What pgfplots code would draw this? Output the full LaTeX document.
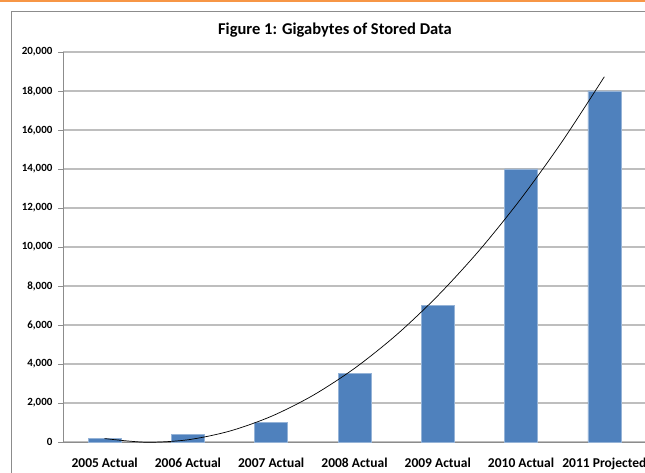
\documentclass[border=0pt]{standalone}
\usepackage{fontspec}
\setmainfont{Carlito}
\usepackage{pgfplots}
\pgfplotsset{compat=1.18}
\definecolor{barblue}{HTML}{4F81BD}
\definecolor{gridgray}{HTML}{BEBEBE}
\definecolor{framegray}{HTML}{8C8C8C}
\definecolor{topline}{HTML}{F79646}
\begin{document}
\begin{tikzpicture}[x=1pt,y=1pt]
% outer chart frame and orange rule along the top
\draw[topline, line width=2.5pt] (0,472) -- (645,472);
\draw[framegray, line width=1pt] (11,0) -- (11,461.5) -- (646,461.5);
\node[font=\bfseries\fontsize{16.5}{18}\selectfont] at (335,443) {Figure 1: Gigabytes of Stored Data};
\begin{axis}[
  at={(63pt,31pt)}, anchor=south west,
  scale only axis,
  width=583pt, height=390pt,
  xmin=-0.5, xmax=6.5,
  ymin=0, ymax=20000,
  ytick={0,2000,...,20000},
  scaled y ticks=false,
  /pgf/number format/.cd, 1000 sep={,}, assume math mode=true, /pgfplots/.cd,
  yticklabel style={font=\bfseries\fontsize{11}{12}\selectfont, xshift=-2pt},
  xtick={0,...,6},
  xticklabels={2005 Actual,2006 Actual,2007 Actual,2008 Actual,2009 Actual,2010 Actual,2011 Projected},
  xticklabel style={font=\bfseries\fontsize{13.5}{15}\selectfont, yshift=-7pt},
  major x tick style={draw=none},
  extra x ticks={-0.5,0.5,1.5,2.5,3.5,4.5,5.5},
  extra x tick labels={},
  extra x tick style={grid=none, major tick length=5pt, tick align=outside, tick style={draw=framegray, line width=0.8pt}},
  ymajorgrids=true,
  grid style={gridgray, line width=1.2pt},
  y tick style={draw=framegray, line width=0.8pt},
  major tick length=5pt,
  tick align=outside,
  axis x line*=bottom,
  axis y line*=left,
  axis line style={framegray, line width=0.8pt},
  x axis line style={-},
  y axis line style={-},
  clip=false,
]
\addplot[ybar, bar width=33pt, fill=barblue, draw=barblue!60!white, line width=0.6pt]
  coordinates {(0,200) (1,400) (2,1000) (3,3500) (4,7000) (5,14000) (6,18000)};
% trend line
\addplot[black, line width=0.7pt, smooth, mark=none] coordinates {
  (0,176) (0.5,-13) (1,114) (1.5,557) (2,1314) (2.5,2387) (3,3776)
  (3.5,5480) (4,7500) (4.5,9835) (5,12486) (5.5,15452) (6,18733)};
\end{axis}
\pgfresetboundingbox
\path[use as bounding box] (0,0) rectangle (645,473);
\end{tikzpicture}
\end{document}
